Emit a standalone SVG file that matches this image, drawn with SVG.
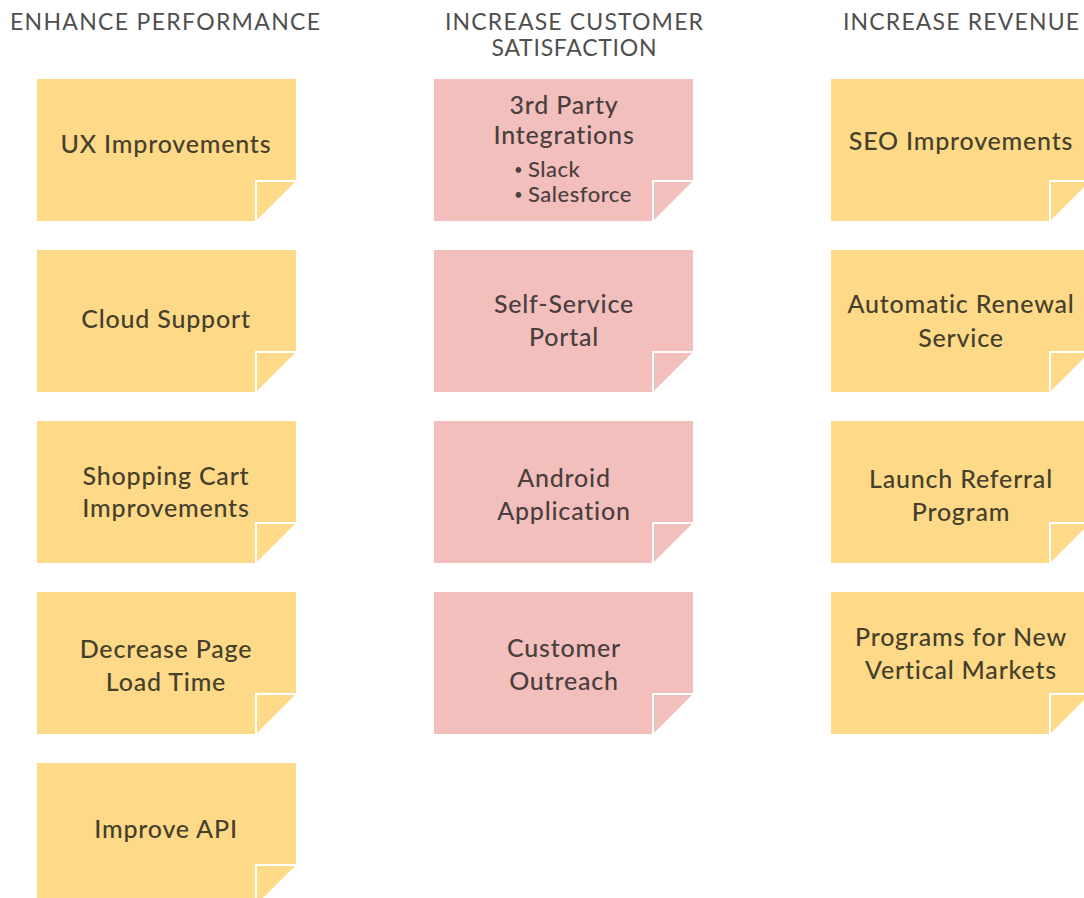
<svg xmlns="http://www.w3.org/2000/svg" width="1084" height="898" viewBox="0 0 1084 898">
<defs>
<style>
.title{font-family:Lato,"Liberation Sans",sans-serif;font-weight:400;font-size:23px;fill:#4f4f4f;text-anchor:middle}
.y{fill:#FDD988}
.p{fill:#F2BFBD}
.fold{fill:none;stroke:#ffffff;stroke-width:2}
.t{font-family:Lato,"Liberation Sans",sans-serif;font-weight:500;font-size:25px;letter-spacing:0.8px;text-anchor:middle}
.ty{fill:#463f2c}
.tp{fill:#4a3e3e}
.b{font-family:Lato,"Liberation Sans",sans-serif;font-weight:500;font-size:22px;letter-spacing:0.5px;fill:#4a3e3e}
.dot{font-family:Lato,"Liberation Sans",sans-serif;font-size:15px;fill:#4a3e3e}
</style>
</defs>
<rect width="1084" height="898" fill="#ffffff"/>
<g id="titles">
<text class="title" x="165" y="30" textLength="310" lengthAdjust="spacing">ENHANCE PERFORMANCE</text>
<text class="title" x="574" y="30" textLength="258" lengthAdjust="spacing">INCREASE CUSTOMER</text>
<text class="title" x="574" y="56" textLength="165" lengthAdjust="spacing">SATISFACTION</text>
<text class="title" x="961" y="30" textLength="236" lengthAdjust="spacing">INCREASE REVENUE</text>
</g>

<g id="ux-improvements">
<polygon class="y" points="37,79 296,79 296,181 256,221 37,221"/>
<path class="fold" d="M256,221 V181 H296"/>
<text class="t ty" x="166" y="153">UX Improvements</text>
</g>
<g id="cloud-support">
<polygon class="y" points="37,250 296,250 296,352 256,392 37,392"/>
<path class="fold" d="M256,392 V352 H296"/>
<text class="t ty" x="166" y="328">Cloud Support</text>
</g>
<g id="shopping-cart">
<polygon class="y" points="37,421 296,421 296,523 256,563 37,563"/>
<path class="fold" d="M256,563 V523 H296"/>
<text class="t ty" x="166" y="485">Shopping Cart</text>
<text class="t ty" x="166" y="517">Improvements</text>
</g>
<g id="decrease-page-load">
<polygon class="y" points="37,592 296,592 296,694 256,734 37,734"/>
<path class="fold" d="M256,734 V694 H296"/>
<text class="t ty" x="166" y="658">Decrease Page</text>
<text class="t ty" x="166" y="691">Load Time</text>
</g>
<g id="improve-api">
<polygon class="y" points="37,763 296,763 296,865 256,905 37,905"/>
<path class="fold" d="M256,905 V865 H296"/>
<text class="t ty" x="166" y="838">Improve API</text>
</g>

<g id="third-party">
<polygon class="p" points="434,79 693,79 693,181 653,221 434,221"/>
<path class="fold" d="M653,221 V181 H693"/>
<text class="t tp" x="564" y="114">3rd Party</text>
<text class="t tp" x="564" y="144">Integrations</text>
<text class="dot" x="514" y="175">•</text>
<text class="b" x="528" y="177">Slack</text>
<text class="dot" x="514" y="200">•</text>
<text class="b" x="528" y="202">Salesforce</text>
</g>
<g id="self-service">
<polygon class="p" points="434,250 693,250 693,352 653,392 434,392"/>
<path class="fold" d="M653,392 V352 H693"/>
<text class="t tp" x="564" y="313">Self-Service</text>
<text class="t tp" x="564" y="346">Portal</text>
</g>
<g id="android">
<polygon class="p" points="434,421 693,421 693,523 653,563 434,563"/>
<path class="fold" d="M653,563 V523 H693"/>
<text class="t tp" x="564" y="487">Android</text>
<text class="t tp" x="564" y="520">Application</text>
</g>
<g id="customer-outreach">
<polygon class="p" points="434,592 693,592 693,694 653,734 434,734"/>
<path class="fold" d="M653,734 V694 H693"/>
<text class="t tp" x="564" y="657">Customer</text>
<text class="t tp" x="564" y="690">Outreach</text>
</g>

<g id="seo">
<polygon class="y" points="831,79 1090,79 1090,181 1050,221 831,221"/>
<path class="fold" d="M1050,221 V181 H1090"/>
<text class="t ty" x="961" y="150">SEO Improvements</text>
</g>
<g id="auto-renewal">
<polygon class="y" points="831,250 1090,250 1090,352 1050,392 831,392"/>
<path class="fold" d="M1050,392 V352 H1090"/>
<text class="t ty" x="961" y="313">Automatic Renewal</text>
<text class="t ty" x="961" y="347">Service</text>
</g>
<g id="referral">
<polygon class="y" points="831,421 1090,421 1090,523 1050,563 831,563"/>
<path class="fold" d="M1050,563 V523 H1090"/>
<text class="t ty" x="961" y="488">Launch Referral</text>
<text class="t ty" x="961" y="521">Program</text>
</g>
<g id="vertical-markets">
<polygon class="y" points="831,592 1090,592 1090,694 1050,734 831,734"/>
<path class="fold" d="M1050,734 V694 H1090"/>
<text class="t ty" x="961" y="646">Programs for New</text>
<text class="t ty" x="961" y="679">Vertical Markets</text>
</g>
<g id="connectors"></g>
</svg>
